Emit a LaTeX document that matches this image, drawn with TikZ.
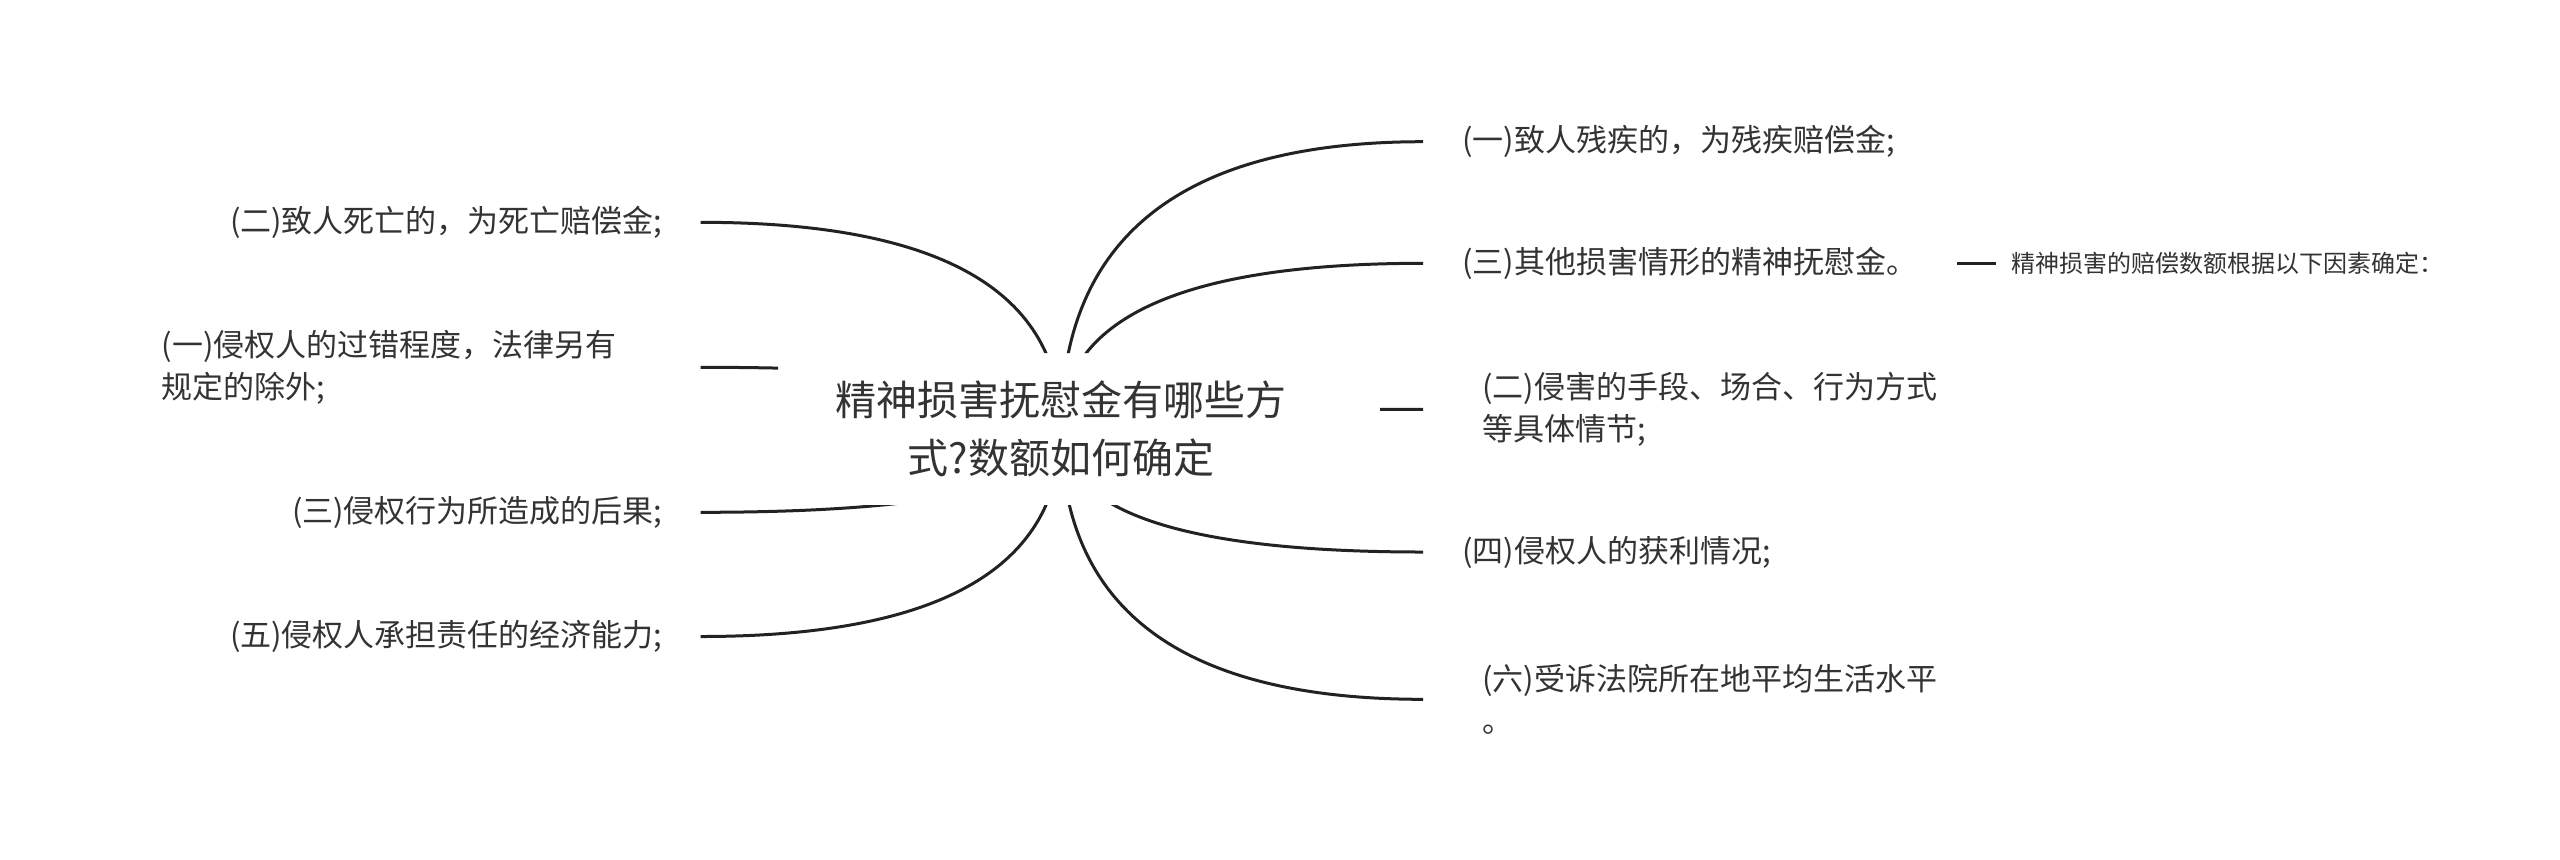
\documentclass[tikz,border=0pt]{standalone}
\usepackage{fontspec}
\setmainfont{Noto Sans CJK SC}
\usepackage{tikz}
\usetikzlibrary{positioning,calc}
\usepackage{xcolor}
\definecolor{LeafText}{RGB}{51,51,51}
\definecolor{TwigLine}{RGB}{34,34,34}

\begin{document}
\begin{tikzpicture}[
    x=0.5pt, y=-0.5pt,
    every node/.style={font=\fontsize{15.5pt}{20.8pt}\selectfont, text=LeafText, inner ysep=0pt},
    twig/.style={draw=TwigLine, line width=1.5pt,
        to path={.. controls ($(\tikztostart)!0.667!(\tikztostart|-\tikztotarget)$)
            and ($(\tikztotarget)!0.667!(\tikztostart|-\tikztotarget)$) .. (\tikztotarget)}},
    lleaf/.style={anchor=east, inner xsep=18.85pt},
    rleaf/.style={anchor=west, inner xsep=19.5pt},
    rleafwide/.style={rleaf, inner xsep=29.5pt, align=left},
]
\useasboundingbox (0,0) rectangle (2560,859);

% central topic
\node[font=\fontsize{20.5pt}{29pt}\selectfont, align=center] (root) at (1061,429)
    {精神损害抚慰金有哪些方\\式?数额如何确定};

% left side
\node[lleaf] (l1) at (700.7,222.3) {(二)致人死亡的，为死亡赔偿金;};
\node[lleaf, text width=250.5pt, align=left] (l2) at (700.7,367.3)
    {(一)侵权人的过错程度，法律另有\\规定的除外;};
\node[lleaf] (l3) at (700.7,512.3) {(三)侵权行为所造成的后果;};
\node[lleaf] (l4) at (700.7,636.5) {(五)侵权人承担责任的经济能力;};

% right side
\node[rleaf] (r1) at (1423,141.7) {(一)致人残疾的，为残疾赔偿金;};
\node[rleaf] (r2) at (1423,263.3) {(三)其他损害情形的精神抚慰金。};
\node[rleafwide] (r3) at (1423,409.3) {(二)侵害的手段、场合、行为方式\\等具体情节;};
\node[rleaf] (r4) at (1423,552) {(四)侵权人的获利情况;};
\node[rleafwide] (r5) at (1423,699.3) {(六)受诉法院所在地平均生活水平\\。};

\node[anchor=west, font=\fontsize{12pt}{15pt}\selectfont, inner xsep=7.5pt] (sub) at (1996,263.3)
    {精神损害的赔偿数额根据以下因素确定：};
\draw[TwigLine, line width=1.5pt] (r2.east) -- (sub.west);

% branches, cut away round the topic
\begin{scope}[even odd rule]
  \clip (0,0) rectangle (2560,859) (778,353) rectangle (1380,505);
  \foreach \leaf in {l1,l2,l3,l4}
    \draw[twig] (root.center) to (\leaf.east);
  \foreach \leaf in {r1,r2,r3,r4,r5}
    \draw[twig] (root.center) to (\leaf.west);
\end{scope}
\end{tikzpicture}
\end{document}
